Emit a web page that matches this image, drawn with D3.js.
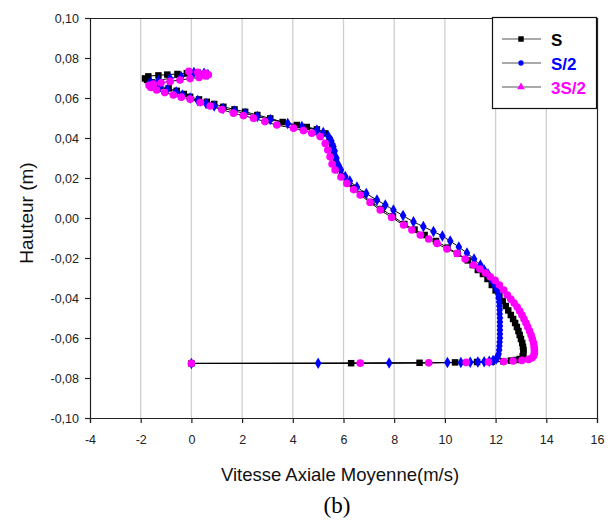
<!DOCTYPE html>
<html>
<head>
<meta charset="utf-8">
<script src="https://cdn.jsdelivr.net/npm/d3@7"></script>
<style>
  body { margin: 0; background: #fff; }
  svg { display: block; }
</style>
</head>
<body>
<script>
// series S
const sVit = [0, 6.3, 9.0, 10.4, 11.27, 11.85, 12.3, 12.6, 12.8, 12.95, 13.07, 13.1, 13.1, 13.08, 13.05, 13.0, 12.95, 12.9, 12.84, 12.77, 12.69, 12.6, 12.5, 12.4, 12.28, 12.15, 12.0, 11.85, 11.68, 11.5, 11.3, 11.1, 10.9, 10.5, 10.1, 9.65, 9.2, 8.8, 8.4, 7.95, 7.5, 7.1, 6.7, 6.4, 6.2, 5.95, 5.8, 5.7, 5.62, 5.55, 5.45, 5.28, 4.95, 4.55, 4.16, 3.6, 3.11, 2.6, 2.12, 1.7, 1.26, 0.9, 0.61, 0.3, -0.05, -0.3, -0.58, -0.9, -1.24, -1.55, -1.75, -1.83, -1.7, -1.3, -0.95, -0.55, -0.18];
const sHaut = [-0.0727, -0.0726, -0.0724, -0.0722, -0.072, -0.0718, -0.0716, -0.0713, -0.071, -0.0705, -0.069, -0.0675, -0.066, -0.0644, -0.0625, -0.0605, -0.0585, -0.0565, -0.0545, -0.0525, -0.0505, -0.0485, -0.0462, -0.044, -0.0415, -0.039, -0.0362, -0.0335, -0.0305, -0.028, -0.026, -0.0235, -0.0212, -0.0178, -0.0148, -0.0115, -0.0085, -0.0058, -0.003, 0.0008, 0.0045, 0.008, 0.012, 0.015, 0.0175, 0.021, 0.0245, 0.028, 0.0325, 0.036, 0.039, 0.0423, 0.0443, 0.0455, 0.0465, 0.048, 0.0498, 0.0515, 0.0531, 0.0543, 0.0556, 0.057, 0.0581, 0.0593, 0.0606, 0.062, 0.0636, 0.0648, 0.066, 0.0678, 0.069, 0.0698, 0.0708, 0.0713, 0.0717, 0.072, 0.0724];

// series S/2
const s2Vit = [0, 5.0, 7.8, 10.1, 10.63, 11.0, 11.3, 11.55, 11.75, 11.9, 12.02, 12.08, 12.12, 12.14, 12.15, 12.16, 12.17, 12.17, 12.17, 12.17, 12.17, 12.17, 12.16, 12.16, 12.15, 12.14, 12.12, 12.1, 12.05, 11.98, 11.9, 11.8, 11.7, 11.55, 11.4, 11.15, 10.87, 10.55, 10.21, 9.9, 9.55, 9.15, 8.76, 8.35, 7.97, 7.65, 7.32, 6.9, 6.53, 6.25, 6.07, 5.9, 5.8, 5.72, 5.65, 5.6, 5.52, 5.41, 5.2, 4.95, 4.36, 3.8, 3.11, 2.6, 2.12, 1.7, 1.25, 0.9, 0.58, 0.25, -0.05, -0.35, -0.6, -0.95, -1.24, -1.5, -1.68, -1.6, -1.3, -0.84, -0.4, -0.05, 0.35, 0.65, 0.5, 0.1];
const s2Haut = [-0.0727, -0.0726, -0.0725, -0.0723, -0.0722, -0.0721, -0.072, -0.0719, -0.0716, -0.0712, -0.0705, -0.0695, -0.068, -0.066, -0.064, -0.062, -0.06, -0.058, -0.056, -0.054, -0.052, -0.05, -0.048, -0.046, -0.044, -0.042, -0.04, -0.038, -0.036, -0.034, -0.032, -0.03, -0.028, -0.026, -0.0235, -0.0205, -0.0175, -0.0145, -0.0115, -0.009, -0.0068, -0.0043, -0.0019, 0.0012, 0.004, 0.0065, 0.009, 0.0122, 0.0155, 0.0185, 0.0207, 0.024, 0.0265, 0.03, 0.0335, 0.0357, 0.0385, 0.0407, 0.0428, 0.044, 0.0457, 0.0473, 0.0493, 0.0508, 0.0523, 0.0535, 0.0548, 0.056, 0.0573, 0.0587, 0.06, 0.0615, 0.063, 0.0643, 0.0655, 0.0663, 0.0668, 0.0678, 0.0688, 0.0698, 0.0706, 0.0712, 0.0717, 0.0718, 0.0724, 0.0728];

// series 3S/2
const s3Vit = [0, 6.66, 9.36, 10.84, 11.72, 12.32, 12.69, 13.04, 13.3, 13.43, 13.5, 13.53, 13.53, 13.52, 13.5, 13.45, 13.4, 13.34, 13.27, 13.2, 13.12, 13.04, 12.95, 12.85, 12.73, 12.6, 12.46, 12.32, 12.15, 11.98, 11.79, 11.6, 11.38, 11.13, 10.8, 10.48, 10.08, 9.69, 9.36, 9.03, 8.7, 8.37, 7.9, 7.45, 7.05, 6.66, 6.4, 6.13, 5.9, 5.67, 5.55, 5.47, 5.38, 5.28, 5.08, 4.75, 4.42, 4.03, 3.37, 2.9, 2.45, 2.05, 1.66, 1.2, 0.74, 0.35, -0.05, -0.4, -0.71, -1.05, -1.37, -1.6, -1.67, -1.5, -1.2, -0.84, -0.45, -0.05, 0.3, 0.55, 0.67, 0.55, 0.25, -0.1];
const s3Haut = [-0.0727, -0.0726, -0.0724, -0.0722, -0.072, -0.0718, -0.0715, -0.0712, -0.0707, -0.07, -0.069, -0.0675, -0.066, -0.0644, -0.0625, -0.0605, -0.0585, -0.0565, -0.0545, -0.0525, -0.0505, -0.0485, -0.0465, -0.0445, -0.0425, -0.0405, -0.0385, -0.036, -0.0335, -0.0312, -0.0294, -0.0275, -0.0255, -0.0235, -0.0205, -0.0177, -0.0155, -0.0127, -0.0105, -0.0085, -0.006, -0.0035, 0.0003, 0.004, 0.0078, 0.0115, 0.0142, 0.0173, 0.0205, 0.024, 0.027, 0.0306, 0.034, 0.0373, 0.0407, 0.0424, 0.0437, 0.0449, 0.0465, 0.0482, 0.0499, 0.0512, 0.0524, 0.0542, 0.056, 0.0577, 0.0594, 0.0604, 0.0615, 0.0627, 0.064, 0.0653, 0.0663, 0.0669, 0.0676, 0.0683, 0.069, 0.0697, 0.0703, 0.071, 0.0716, 0.0723, 0.0728, 0.0733];

const seriesNames = ['S', 'S/2', '3S/2'];
const seriesColors = ['#000000', '#0000ff', '#ff00ff'];
const xTicks = [-4, -2, 0, 2, 4, 6, 8, 10, 12, 14, 16];
const yTicks = [-0.10, -0.08, -0.06, -0.04, -0.02, 0.00, 0.02, 0.04, 0.06, 0.08, 0.10];

const width = 611, height = 522;
const plotL = 90, plotR = 597, plotT = 18, plotB = 418;

const svg = d3.select('body').append('svg')
    .attr('width', width)
    .attr('height', height)
    .style('font-family', 'Liberation Sans, Arial, sans-serif');

const x = d3.scaleLinear().domain([-4, 16]).range([plotL, plotR]);
const y = d3.scaleLinear().domain([-0.1, 0.1]).range([plotB, plotT]);

// vertical grid lines
svg.append('g')
    .selectAll('line')
    .data(xTicks.slice(1, -1))
    .enter()
    .append('line')
    .attr('x1', d => x(d)).attr('x2', d => x(d))
    .attr('y1', plotT).attr('y2', plotB)
    .attr('stroke', '#cfcfcf')
    .attr('stroke-width', 1.3);

// frame top / right
svg.append('path')
    .attr('d', `M${plotL},${plotT + 0.5}H${plotR + 0.5}V${plotB}`)
    .attr('fill', 'none')
    .attr('stroke', '#222')
    .attr('stroke-width', 1.2);

const fmtY = v => d3.format('.2f')(v).replace('.', ',').replace('\u2212', '-');

const xAxis = svg.append('g')
    .attr('transform', `translate(0,${plotB})`)
    .call(d3.axisBottom(x).tickValues(xTicks).tickSize(5).tickPadding(12).tickFormat(d => String(d)));
const yAxis = svg.append('g')
    .attr('transform', `translate(${plotL},0)`)
    .call(d3.axisLeft(y).tickValues(yTicks).tickSize(5).tickPadding(6).tickFormat(fmtY));

[xAxis, yAxis].forEach(g => {
    g.selectAll('path, line').attr('stroke', '#222').attr('stroke-width', 1.2);
    g.selectAll('text').attr('font-size', 12.5).attr('fill', '#222')
        .attr('font-family', 'Liberation Sans, Arial, sans-serif');
});

// axis titles
svg.append('text')
    .attr('x', 340).attr('y', 481)
    .attr('text-anchor', 'middle')
    .attr('font-size', 18.5)
    .attr('fill', '#111')
    .text('Vitesse Axiale Moyenne(m/s)');

svg.append('text')
    .attr('transform', 'translate(33,213) rotate(-90)')
    .attr('text-anchor', 'middle')
    .attr('font-size', 19)
    .attr('fill', '#111')
    .text('Hauteur (m)');

svg.append('text')
    .attr('x', 337).attr('y', 513)
    .attr('text-anchor', 'middle')
    .attr('font-family', 'Liberation Serif, Times New Roman, serif')
    .attr('font-size', 23)
    .attr('fill', '#000')
    .text('(b)');

// curves
const series = [
    { vit: sVit, haut: sHaut },
    { vit: s2Vit, haut: s2Haut },
    { vit: s3Vit, haut: s3Haut }
].map((s, i) => ({
    name: seriesNames[i],
    color: seriesColors[i],
    pts: s.vit.map((v, j) => [v, s.haut[j]])
}));

const line = d3.line()
    .x(d => x(d[0]))
    .y(d => y(d[1]))
    .curve(d3.curveCatmullRom);

const symbols = [
    d3.symbol().type(d3.symbolSquare).size(42),
    d3.symbol().type(d3.symbolDiamond).size(38),
    d3.symbol().type(d3.symbolCircle).size(46)
];

const plot = svg.append('g');

series.forEach(s => {
    plot.append('path')
        .attr('d', line(s.pts))
        .attr('fill', 'none')
        .attr('stroke', '#000')
        .attr('stroke-width', 1);
});

series.forEach((s, i) => {
    plot.append('g')
        .selectAll('path')
        .data(s.pts)
        .enter()
        .append('path')
        .attr('transform', d => `translate(${x(d[0])},${y(d[1])})`)
        .attr('d', symbols[i]())
        .attr('fill', s.color);
});

// legend
const legend = svg.append('g');
legend.append('rect')
    .attr('x', 492.5).attr('y', 17.5)
    .attr('width', 104).attr('height', 91)
    .attr('fill', '#fff')
    .attr('stroke', '#111')
    .attr('stroke-width', 1.2);

const legendSymbols = [
    d3.symbol().type(d3.symbolSquare).size(30),
    d3.symbol().type(d3.symbolCircle).size(22),
    d3.symbol().type(d3.symbolTriangle).size(26)
];

series.forEach((s, i) => {
    const ly = 39 + i * 24;
    legend.append('line')
        .attr('x1', 502).attr('x2', 541)
        .attr('y1', ly).attr('y2', ly)
        .attr('stroke', '#555')
        .attr('stroke-width', 1.2);
    legend.append('path')
        .attr('transform', `translate(521,${ly})`)
        .attr('d', legendSymbols[i]())
        .attr('fill', s.color);
    legend.append('text')
        .attr('x', 551).attr('y', ly + 6.5)
        .attr('font-size', 17)
        .attr('font-weight', 'bold')
        .attr('fill', s.color)
        .text(s.name);
});
</script>
</body>
</html>
